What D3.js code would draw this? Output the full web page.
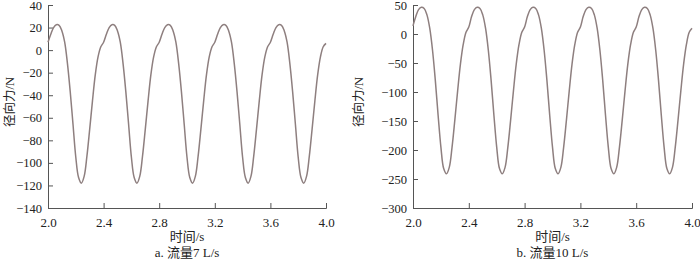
<!DOCTYPE html>
<html>
<head>
<meta charset="utf-8">
<script src="https://cdn.jsdelivr.net/npm/d3@7"></script>
<style>
  body { margin: 0; background: #fff; }
  svg text { font-family: "Liberation Serif", "Noto Sans CJK SC", serif; fill: #222; }
</style>
</head>
<body>
<div id="chart"></div>
<script>
// time axis, 2.0 .. 4.0 s every 0.02 s
var times = d3.range(101).map(function (i) { return +(2 + i * 0.02).toFixed(2); });
var xTicks = [2.0, 2.4, 2.8, 3.2, 3.6, 4.0];

// radial force, 7 L/s
var forceA = [
  7, 14, 20, 22.5, 22, 17, 7, -12, -37, -66, -95, -113, -118, -112, -94, -70, -45, -22, -6, 3,
  7, 14, 20, 22.5, 22, 17, 7, -12, -37, -66, -95, -113, -118, -112, -94, -70, -45, -22, -6, 3,
  7, 14, 20, 22.5, 22, 17, 7, -12, -37, -66, -95, -113, -118, -112, -94, -70, -45, -22, -6, 3,
  7, 14, 20, 22.5, 22, 17, 7, -12, -37, -66, -95, -113, -118, -112, -94, -70, -45, -22, -6, 3,
  7, 14, 20, 22.5, 22, 17, 7, -12, -37, -66, -95, -113, -118, -112, -94, -70, -45, -22, -6, 3,
  6
];
var yTicksA = [40, 20, 0, -20, -40, -60, -80, -100, -120, -140];

// radial force, 10 L/s
var forceB = [
  14, 30, 42, 46, 44, 33, 10, -28, -80, -140, -195, -232, -241, -230, -195, -148, -98, -52, -18, 3,
  12, 30, 42, 46, 44, 33, 10, -28, -80, -140, -195, -232, -241, -230, -195, -148, -98, -52, -18, 3,
  12, 30, 42, 46, 44, 33, 10, -28, -80, -140, -195, -232, -241, -230, -195, -148, -98, -52, -18, 3,
  12, 30, 42, 46, 44, 33, 10, -28, -80, -140, -195, -232, -241, -230, -195, -148, -98, -52, -18, 3,
  12, 30, 42, 46, 44, 33, 10, -28, -80, -140, -195, -232, -241, -230, -195, -148, -98, -52, -18, 3,
  10
];
var yTicksB = [50, 0, -50, -100, -150, -200, -250, -300];

var panels = [
  { left: 48,  right: 326, values: forceA, ticks: yTicksA, caption: "a. 流量7 L/s",  ylabX: 10 },
  { left: 413, right: 692, values: forceB, ticks: yTicksB, caption: "b. 流量10 L/s", ylabX: 359 }
];

var svg = d3.select("#chart").append("svg")
    .attr("width", 700)
    .attr("height", 261);

var plotTop = 5, plotBottom = 208;

panels.forEach(function (p) {
  var x = d3.scaleLinear().domain([2, 4]).range([p.left, p.right]);
  var y = d3.scaleLinear().domain([d3.min(p.ticks), d3.max(p.ticks)]).range([plotBottom, plotTop]);

  var g = svg.append("g");

  // x axis, ticks pointing inside
  var xa = g.append("g")
      .attr("transform", "translate(0," + plotBottom + ")")
      .call(d3.axisBottom(x).tickValues(xTicks).tickFormat(d3.format(".1f"))
        .tickSizeInner(-5).tickSizeOuter(-5).tickPadding(10));
  xa.selectAll("text").style("font-size", "13px");

  // y axis
  var ya = g.append("g")
      .attr("transform", "translate(" + p.left + ",0)")
      .call(d3.axisLeft(y).tickValues(p.ticks)
        .tickSizeInner(-5).tickSizeOuter(-5).tickPadding(6));
  ya.selectAll("text").style("font-size", "12.5px");

  g.selectAll(".domain, .tick line").attr("stroke", "#555").attr("stroke-width", 1);

  // force curve
  var line = d3.line()
      .x(function (d, i) { return x(times[i]); })
      .y(function (d) { return y(d); })
      .curve(d3.curveCatmullRom);

  g.append("path")
      .datum(p.values)
      .attr("fill", "none")
      .attr("stroke", "#8e7f7f")
      .attr("stroke-width", 1.5)
      .attr("d", line);

  var cx = (p.left + p.right) / 2;

  g.append("text")
      .attr("x", cx).attr("y", 241)
      .attr("text-anchor", "middle")
      .style("font-size", "13px")
      .text("时间/s");

  g.append("text")
      .attr("x", cx).attr("y", 257)
      .attr("text-anchor", "middle")
      .style("font-size", "13px")
      .text(p.caption);

  g.append("text")
      .attr("transform", "translate(" + (p.ylabX + 4) + "," + 102 + ") rotate(-90)")
      .attr("text-anchor", "middle")
      .style("font-size", "12.5px")
      .text("径向力/N");
});
</script>
</body>
</html>
